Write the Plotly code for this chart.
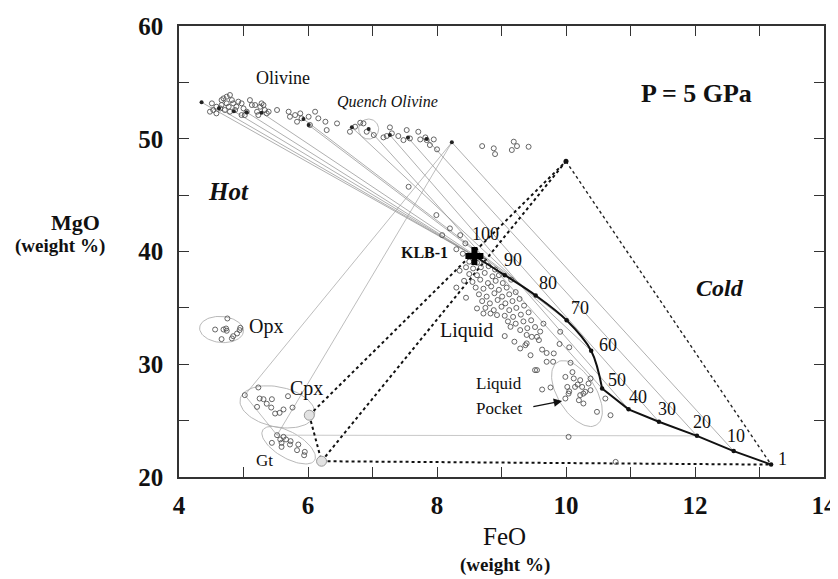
import numpy as np
import plotly.graph_objects as go

# ---------------- data ----------------
# olivine analyses (open circles)
ol_x = [4.51,4.58,4.53,4.64,4.66,4.69,4.74,4.79,4.82,4.84,4.77,4.71,4.79,4.87,4.89,4.92,4.97,5.00,5.05,4.97,
        5.02,5.10,5.13,5.18,5.21,5.26,5.28,5.31,5.33,5.36,5.23,5.39,5.52,4.58,4.48,4.66,4.74,
        5.70,5.72,5.80,5.83,5.88,5.90,6.01,6.03,6.11,6.16,6.27,6.29,6.45,6.65,6.73,6.81,6.86,6.91,7.02,
        7.17,7.22,7.27,7.30,7.40,7.48,7.53,7.58,7.71,7.74,7.82,7.84,7.95,7.89,8.00,8.70,8.88,8.90,9.16,
        9.19,9.24,9.42]
ol_y = [53.14,52.84,52.55,52.69,53.43,53.58,53.73,53.88,53.43,53.14,52.84,52.55,52.40,52.55,52.84,53.29,53.14,52.69,52.40,52.10,
        52.10,53.43,52.99,52.99,52.40,52.84,53.14,52.99,52.55,52.25,52.10,52.40,52.55,52.25,52.40,52.99,53.14,
        52.40,51.95,52.10,51.51,52.25,51.81,51.95,51.22,52.40,51.81,51.51,50.77,51.36,50.62,51.07,51.42,51.36,50.62,50.33,
        50.12,50.24,51.01,50.48,50.24,49.88,50.77,50.03,50.62,49.94,50.12,49.88,49.94,49.44,49.06,49.35,49.15,48.64,49.00,
        49.74,49.35,49.29]

# olivines with tie lines (filled)
olt_x = [4.35, 4.62, 4.85, 5.05, 5.28, 5.93, 6.01, 6.68, 6.94, 7.27, 7.55, 7.84, 8.23]
olt_y = [53.23, 52.70, 52.45, 52.35, 52.31, 51.75, 51.22, 51.01, 50.86, 50.33, 50.10, 49.97, 49.68]
olt_target = ["100", "100", "100", "100", "90", "80", "70", "60", "50", "40", "30", "20", "10"]

# liquid analyses
liq_x = [8.50,8.62,8.72,8.45,8.56,8.68,8.80,8.90,8.50,8.62,8.74,8.86,8.96,8.42,8.55,8.67,8.79,8.91,9.02,8.60,
         8.72,8.84,8.96,9.08,8.65,8.77,8.89,9.01,9.12,9.22,8.70,8.82,8.94,9.06,9.17,9.28,8.75,8.88,9.00,9.12,
         9.23,9.35,8.62,8.72,8.83,8.93,9.05,9.18,9.30,9.42,9.10,9.22,9.34,9.46,9.14,9.29,9.40,9.52,9.39,9.55,
         9.47,9.39,9.58,9.29,9.37,9.70,9.55,9.70,9.81,9.91,9.80,9.63,8.35,9.15,8.30,8.45,9.05,9.65,9.90,10.05,
         8.20,8.36,8.08,8.44,7.99,7.56,8.30,8.40,9.20,9.60,9.45]
liq_y = [39.1,39.0,39.2,38.6,38.5,38.6,38.7,38.4,38.0,37.9,38.1,37.8,37.9,37.4,37.3,37.5,37.2,37.4,37.2,36.8,
         36.7,36.9,36.6,36.8,36.2,36.0,36.3,36.0,36.2,36.4,35.6,35.4,35.7,35.4,35.6,35.8,35.0,34.8,35.1,34.8,
         35.0,35.2,34.95,34.5,34.5,34.36,34.3,34.2,34.4,34.6,33.8,33.6,33.8,33.9,33.32,33.03,33.2,33.3,32.6,32.43,
         32.43,31.85,32.14,31.40,31.69,31.0,29.48,30.22,30.96,32.88,30.22,31.3,38.3,37.5,36.8,35.9,32.5,33.6,31.8,31.5,
         42.05,41.45,41.45,40.72,43.23,45.74,40.2,39.8,32.0,32.9,30.8]

# liquid pocket analyses
poc_x = [9.52,9.63,9.76,9.99,10.07,10.02,10.12,10.22,10.14,10.25,10.22,10.27,10.20,10.27,10.30,10.35,10.38,9.99,10.04,10.48,
         10.69,10.61,10.38,10.10,10.18,10.05,10.04,10.77]
poc_y = [29.48,27.76,27.94,28.88,30.13,27.99,28.74,28.59,27.99,27.99,27.26,27.40,26.81,26.52,27.55,28.29,27.70,26.96,27.40,25.78,
         25.48,26.96,28.74,29.30,28.20,27.60,23.56,21.34]

opx_x = [4.56,4.69,4.73,4.75,4.66,4.82,4.84,4.90,4.94,4.95,4.74]
opx_y = [33.08,33.08,33.17,34.06,32.23,32.29,32.49,32.73,33.03,33.23,32.97]

cpx_x = [5.02,5.23,5.25,5.31,5.44,5.69,5.43,5.21,5.49,5.56,5.62,5.76,5.36]
cpx_y = [27.26,27.94,26.96,26.90,26.90,27.17,26.16,26.22,25.63,25.69,25.99,26.16,26.50]

gt_x = [5.52,5.44,5.59,5.59,5.66,5.73,5.72,5.85,5.83,5.95,5.94,5.57,5.62]
gt_y = [23.71,23.03,23.03,22.67,23.33,23.18,22.88,22.88,22.38,22.23,21.93,23.33,23.56]

# melting path (percent melt)
melt_labels = ["100", "90", "80", "70", "60", "50", "40", "30", "20", "10", "1"]
melt_x = [8.58, 9.05, 9.53, 10.01, 10.39, 10.56, 10.97, 11.44, 12.03, 12.60, 13.18]
melt_y = [39.6, 37.9, 36.1, 33.9, 31.2, 27.85, 26.0, 24.9, 23.65, 22.3, 21.1]

# mass-balance phases
ol_apex = (10.0, 48.0)
cpx_bulk = (6.02, 25.48)
gt_bulk = (6.21, 21.40)
ol_high = (8.23, 49.68)
cpx_tie = (5.02, 27.26)
gt_tie = (5.52, 23.71)

x_ticks = [4, 5, 6, 7, 8, 9, 10, 11, 12, 13, 14]
x_ticktext = ["4", "", "6", "", "8", "", "10", "", "12", "", "14"]
y_ticks = [20, 25, 30, 35, 40, 45, 50, 55, 60]
y_ticktext = ["20", "", "30", "", "40", "", "50", "", "60"]

# ---------------- layout constants ----------------
# the page body adds an 8px offset, so the figure is made 8px smaller
W, H = 830, 571
ML, MR, MT, MB = 171, 14, 18, 102
XR = (4, 14)
YR = (20, 60)
kx = (W - ML - MR) / (XR[1] - XR[0])
ky = (H - MT - MB) / (YR[1] - YR[0])
SERIF = "Liberation Serif, Times New Roman, serif"

fig = go.Figure()

def line(xs, ys, color="#9a9a9a", width=0.8, dash="solid", shape="linear"):
    fig.add_trace(go.Scatter(x=xs, y=ys, mode="lines", hoverinfo="skip", showlegend=False,
                             line=dict(color=color, width=width, dash=dash, shape=shape)))

def ellipse(cx, cy, a, b, ang):
    t = np.linspace(0, 2 * np.pi, 80)
    th = np.radians(ang)
    px = a * np.cos(t)
    py = b * np.sin(t)
    dx = px * np.cos(th) - py * np.sin(th)
    dy = px * np.sin(th) + py * np.cos(th)
    line(list(cx + dx / kx), list(cy - dy / ky), color="#b0b0b0", width=0.9)

# ellipses
ellipse(4.66, 33.08, 22, 13, 5)          # Opx
ellipse(5.525, 26.22, 38, 20, 12)        # Cpx
ellipse(5.70, 22.82, 30, 13, 30)         # Gt
ellipse(6.94, 50.86, 10, 10, 0)          # quench olivine
ellipse(10.17, 27.4, 37, 19, 58)         # liquid pocket

# olivine-liquid tie lines
lab_idx = {l: i for i, l in enumerate(melt_labels)}
for xo, yo, tgt in zip(olt_x, olt_y, olt_target):
    i = lab_idx[tgt]
    line([xo, melt_x[i]], [yo, melt_y[i]], color="#8c8c8c", width=0.7)

# thin lines from high olivine to cpx and gt, and cpx-gt
line([cpx_tie[0], ol_high[0]], [cpx_tie[1], ol_high[1]], color="#a0a0a0", width=0.7)
line([gt_tie[0], ol_high[0]], [gt_tie[1], ol_high[1]], color="#a0a0a0", width=0.7)
line([cpx_tie[0], gt_tie[0]], [cpx_tie[1], gt_tie[1]], color="#a0a0a0", width=0.7)
line([gt_tie[0], melt_x[lab_idx["20"]]], [gt_tie[1], melt_y[lab_idx["20"]]], color="#c8c8c8", width=1.0)

# dotted mass-balance figure
line([cpx_bulk[0], ol_apex[0]], [cpx_bulk[1], ol_apex[1]], color="#111", width=2, dash="dot")
line([gt_bulk[0], ol_apex[0]], [gt_bulk[1], ol_apex[1]], color="#111", width=2, dash="dot")
line([cpx_bulk[0], gt_bulk[0]], [cpx_bulk[1], gt_bulk[1]], color="#111", width=2, dash="dot")
line([gt_bulk[0], melt_x[-1]], [gt_bulk[1], melt_y[-1]], color="#111", width=2, dash="dot")
line([ol_apex[0], melt_x[-1]], [ol_apex[1], melt_y[-1]], color="#222", width=1.4, dash="dot")

# open-circle analyses
def pts(xs, ys, color="#555"):
    fig.add_trace(go.Scatter(x=xs, y=ys, mode="markers", hoverinfo="skip", showlegend=False,
                             marker=dict(symbol="circle-open", size=5, color=color, line=dict(width=0.9))))

pts(ol_x, ol_y)
pts(liq_x, liq_y)
pts(poc_x, poc_y)
pts(opx_x, opx_y)
pts(cpx_x, cpx_y)
pts(gt_x, gt_y)

# filled olivines
fig.add_trace(go.Scatter(x=olt_x, y=olt_y, mode="markers", hoverinfo="skip", showlegend=False,
                         marker=dict(symbol="circle", size=4, color="#222")))

# melting curve
line(melt_x[:6], melt_y[:6], color="#111", width=2, shape="spline")
line(melt_x[5:], melt_y[5:], color="#111", width=2)
fig.add_trace(go.Scatter(x=melt_x[1:], y=melt_y[1:], mode="markers", hoverinfo="skip", showlegend=False,
                         marker=dict(symbol="circle", size=4.5, color="#111")))

# KLB-1
fig.add_trace(go.Scatter(x=[melt_x[0]], y=[melt_y[0]], mode="markers", hoverinfo="skip", showlegend=False,
                         marker=dict(symbol="cross", size=15, color="#000")))

# apex olivine
fig.add_trace(go.Scatter(x=[ol_apex[0]], y=[ol_apex[1]], mode="markers", hoverinfo="skip", showlegend=False,
                         marker=dict(symbol="circle", size=5, color="#111")))

# bulk cpx, gt
fig.add_trace(go.Scatter(x=[cpx_bulk[0], gt_bulk[0]], y=[cpx_bulk[1], gt_bulk[1]], mode="markers",
                         hoverinfo="skip", showlegend=False,
                         marker=dict(symbol="circle", size=10, color="#e2e2e2", line=dict(color="#9a9a9a", width=1))))

# ---------------- annotations ----------------
ann = []
def txt(x, y, s, size, bold=False, italic=False, xref="x", yref="y", xanchor="center", color="#111", **kw):
    ann.append(dict(x=x, y=y, xref=xref, yref=yref, text=s, showarrow=False, xanchor=xanchor, yanchor="middle",
                    font=dict(family=SERIF, size=size, color=color,
                              weight="bold" if bold else "normal",
                              style="italic" if italic else "normal"), **kw))

lab_dx = [11, 8, 12, 13, 17, 15, 9, 8, 5, 2, 11]
lab_dy = [22, 15, 12, 12, 6, 8, 12, 13, 14, 15, 6]
for l, x, y, dx, dy in zip(melt_labels, melt_x, melt_y, lab_dx, lab_dy):
    txt(x, y, l, 18, xshift=dx, yshift=dy)

txt(5.62, 55.4, "Olivine", 18)
txt(7.24, 53.3, "Quench Olivine", 16, italic=True)
txt(4.77, 45.3, "Hot", 25, bold=True, italic=True)
txt(12.39, 36.75, "Cold", 24, bold=True, italic=True)
txt(12.03, 54.03, "P = 5 GPa", 26, bold=True)
txt(7.81, 39.9, "KLB-1", 16, bold=True)
txt(8.45, 33.0, "Liquid", 20)
txt(8.965, 28.32, "Liquid", 17)
txt(8.965, 26.1, "Pocket", 17)
txt(5.35, 33.38, "Opx", 20)
txt(5.98, 27.85, "Cpx", 20)
txt(5.32, 21.49, "Gt", 17)

ann.append(dict(x=9.94, y=26.75, ax=9.47, ay=26.22, xref="x", yref="y", axref="x", ayref="y",
                showarrow=True, arrowhead=2, arrowsize=1.2, arrowwidth=1.4, arrowcolor="#111", text=""))

# axis titles
txt(-0.161, 0.565, "MgO", 22, bold=True, xref="paper", yref="paper")
txt(-0.184, 0.512, "(weight %)", 19, bold=True, xref="paper", yref="paper")
txt(0.505, -0.133, "FeO", 25, xref="paper", yref="paper")
txt(0.505, -0.195, "(weight %)", 19, bold=True, xref="paper", yref="paper")

axis_common = dict(showline=True, linecolor="#333", linewidth=1.5, mirror="ticks", ticks="inside",
                   ticklen=10, tickwidth=1.3, tickcolor="#333", showgrid=False, zeroline=False,
                   automargin=False,
                   tickfont=dict(family=SERIF, size=25, color="#111", weight="bold"))

fig.update_layout(
    width=W, height=H, margin=dict(l=ML, r=MR, t=MT, b=MB),
    paper_bgcolor="white", plot_bgcolor="white",
    xaxis=dict(range=list(XR), tickmode="array", tickvals=x_ticks, ticktext=x_ticktext, ticklabelstandoff=5,
               **axis_common),
    yaxis=dict(range=list(YR), tickmode="array", tickvals=y_ticks, ticktext=y_ticktext, ticklabelstandoff=9,
               **axis_common),
    annotations=ann,
    showlegend=False,
)

fig.write_html("out.html")
